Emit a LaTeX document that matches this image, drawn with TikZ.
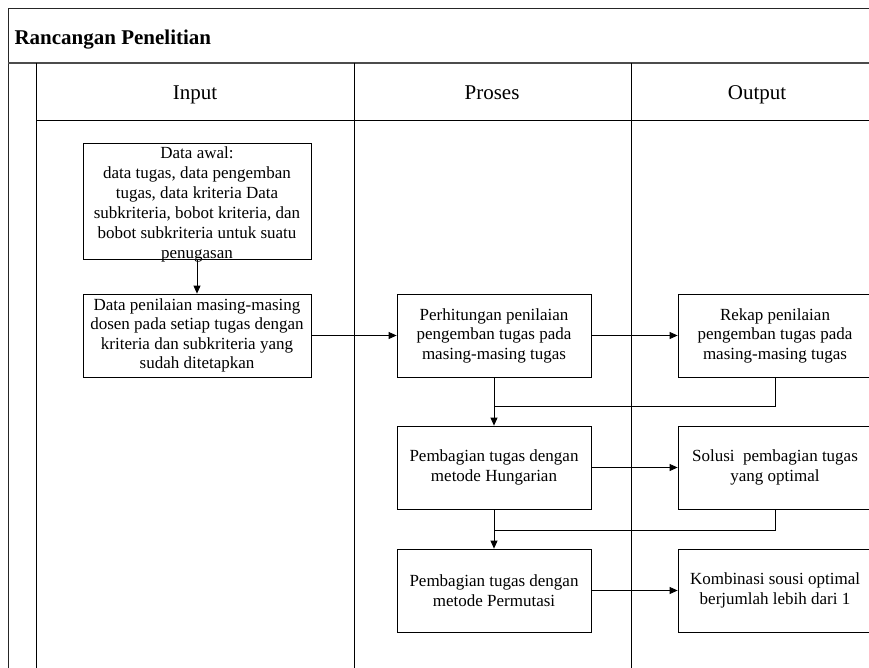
\documentclass[tikz,border=0pt]{standalone}
\usepackage{fontspec}
\setmainfont{Liberation Serif}
\usetikzlibrary{arrows.meta}
\begin{document}
\begin{tikzpicture}[x=1pt,y=-1pt,
  frame/.style={line width=1pt,draw=black!85},
  lane/.style={line width=0.9pt,draw=black},
  boxtext/.style={font=\fontsize{17}{19.5}\selectfont,align=center},
  procbox/.style={draw,line width=0.8pt,minimum width=194pt,minimum height=83pt,
    inner sep=0pt,boxtext},
  inbox/.style={draw,line width=0.8pt,minimum width=228pt,inner sep=0pt,boxtext},
  head/.style={font=\fontsize{21}{24}\selectfont,anchor=base},
  flow/.style={line width=0.8pt,-{Triangle[length=8pt,width=7pt]}},
  link/.style={line width=0.8pt}]
\useasboundingbox (0,0) rectangle (869,668);
\fill[white] (0,0) rectangle (869,668);

% pool frame and lanes
\draw[frame] (8,668) -- (8,9) -- (880,9);
\draw[frame,line width=1.5pt,draw=black!70] (8,63) -- (880,63);
\draw[lane] (36,63) -- (36,668);
\draw[lane] (36,120) -- (880,120);
\draw[lane] (354,63) -- (354,668);
\draw[lane] (631,63) -- (631,668);

% title and lane headers
\node[anchor=base west,font=\fontsize{21}{24}\selectfont\bfseries] (title) at (11,45) {Rancangan Penelitian};
\node[head] (hin) at (195,100) {Input};
\node[head] (hpro) at (492,100) {Proses};
\node[head] (hout) at (757,100) {Output};

% input lane
\node[inbox,minimum height=116pt] (awal) at (197,201) {};
\node[boxtext,font=\fontsize{17}{20}\selectfont] (awaltext) at (197,204) {Data awal:\\data tugas, data pengemban\\tugas, data kriteria Data\\subkriteria, bobot kriteria, dan\\bobot subkriteria untuk suatu\\penugasan};
\node[inbox,minimum height=83pt] (nilai) at (197,335.5) {Data penilaian masing-masing\\dosen pada setiap tugas dengan\\kriteria dan subkriteria yang\\sudah ditetapkan};

% process lane
\node[procbox] (hitung) at (494,335.5) {Perhitungan penilaian\\pengemban tugas pada\\masing-masing tugas};
\node[procbox] (hung) at (494,467.5) {Pembagian tugas dengan\\metode Hungarian};
\node[procbox] (perm) at (494,590.5) {Pembagian tugas dengan\\metode Permutasi};

% output lane
\node[procbox] (rekap) at (775,335.5) {Rekap penilaian\\pengemban tugas pada\\masing-masing tugas};
\node[procbox] (solusi) at (775,467.5) {Solusi\ \ pembagian tugas\\yang optimal};
\node[procbox] (kombi) at (775,590.5) {Kombinasi sousi optimal\\berjumlah lebih dari 1};

% connectors
\draw[flow] (awal.south) -- (nilai.north);
\draw[flow] (nilai.east) -- (hitung.west);
\draw[flow] (hitung.east) -- (rekap.west);
\draw[flow] (hung.east) -- (solusi.west);
\draw[flow] (perm.east) -- (kombi.west);

\coordinate (j1) at (494,406);
\coordinate (j2) at (494,530);
\draw[flow] (hitung.south) -- (hung.north);
\draw[link] (rekap.south) |- (j1);
\draw[flow] (hung.south) -- (perm.north);
\draw[link] (solusi.south) |- (j2);
\end{tikzpicture}
\end{document}
